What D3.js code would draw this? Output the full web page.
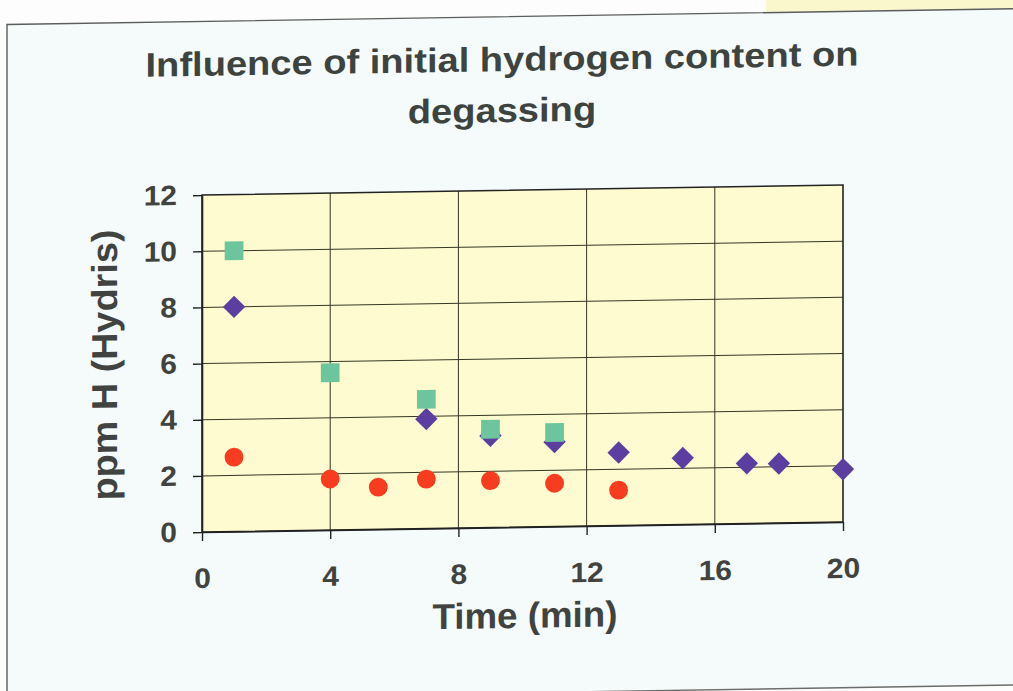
<!DOCTYPE html>
<html>
<head>
<meta charset="utf-8">
<script src="https://cdn.jsdelivr.net/npm/d3@7"></script>
<style>
  html, body { margin: 0; padding: 0; background: #fdfdfd; }
  svg { display: block; }
  text { font-family: "Liberation Sans", Arial, sans-serif; font-weight: bold; fill: #404340; }
</style>
</head>
<body>
<svg id="chart" width="1013" height="691"></svg>
<script>
// data
var timeHigh = [1, 4, 7, 9, 11];
var hydrogenHigh = [10, 5.6, 4.6, 3.5, 3.35];

var timeMid = [1, 7, 9, 11, 13, 15, 17, 18, 20];
var hydrogenMid = [8, 3.9, 3.27, 3.01, 2.6, 2.37, 2.14, 2.12, 1.88];

var timeLow = [1, 4, 5.5, 7, 9, 11, 13];
var hydrogenLow = [2.65, 1.82, 1.5, 1.76, 1.67, 1.54, 1.26];

var xTicks = [0, 4, 8, 12, 16, 20];
var yTicks = [0, 2, 4, 6, 8, 10, 12];

var titleLines = ['Influence of initial hydrogen content on', 'degassing'];
var xTitle = 'Time (min)';
var yTitle = 'ppm H (Hydris)';

// layout
var plot = { left: 202, right: 843, top: 190.3, bottom: 527.3 };

var svg = d3.select('#chart');

// the scan is slightly skewed: horizontals rise to the right
var page = svg.append('g')
  .attr('transform', 'translate(506,0) skewY(-0.9) translate(-506,0)');

// yellow scrap top right + slide frame
page.append('rect')
  .attr('x', 766).attr('y', -40).attr('width', 300).attr('height', 56)
  .attr('fill', '#fbf7cd');
page.append('rect')
  .attr('x', 7).attr('y', 16.7).attr('width', 1100).attr('height', 676)
  .attr('fill', '#f5fafa');
page.append('path')
  .attr('d', 'M7,693 L7,16.7 L1100,16.7')
  .attr('fill', 'none').attr('stroke', '#5a5d5a').attr('stroke-width', 1.4);
page.append('line')
  .attr('x1', 7).attr('x2', 1100).attr('y1', 693).attr('y2', 693)
  .attr('stroke', '#6a6d6a').attr('stroke-width', 1.4);

var x = d3.scaleLinear().domain([0, 20]).range([plot.left, plot.right]);
var y = d3.scaleLinear().domain([0, 12]).range([plot.bottom, plot.top]);

function stretch(sel, k) {
  sel.each(function () {
    var w = this.getComputedTextLength();
    d3.select(this).attr('textLength', w * k).attr('lengthAdjust', 'spacingAndGlyphs');
  });
}

// plot area
page.append('rect')
  .attr('x', plot.left).attr('y', plot.top)
  .attr('width', plot.right - plot.left).attr('height', plot.bottom - plot.top)
  .attr('fill', '#fdfbcf');

// grid
page.append('g').selectAll('line')
  .data(yTicks.slice(1, -1)).join('line')
  .attr('x1', plot.left).attr('x2', plot.right)
  .attr('y1', function (d) { return y(d); }).attr('y2', function (d) { return y(d); })
  .attr('stroke', '#363625').attr('stroke-width', 1);
page.append('g').selectAll('line')
  .data(xTicks.slice(1, -1)).join('line')
  .attr('y1', plot.top).attr('y2', plot.bottom)
  .attr('x1', function (d) { return x(d); }).attr('x2', function (d) { return x(d); })
  .attr('stroke', '#363625').attr('stroke-width', 1);

page.append('rect')
  .attr('x', plot.left).attr('y', plot.top)
  .attr('width', plot.right - plot.left).attr('height', plot.bottom - plot.top)
  .attr('fill', 'none').attr('stroke', '#222').attr('stroke-width', 1.6);

// axes
var xAxis = page.append('g')
  .attr('transform', 'translate(0,' + plot.bottom + ')')
  .call(d3.axisBottom(x).tickValues(xTicks).tickSize(9).tickSizeOuter(0).tickPadding(27));
var yAxis = page.append('g')
  .attr('transform', 'translate(' + plot.left + ',0)')
  .call(d3.axisLeft(y).tickValues(yTicks).tickSize(9).tickSizeOuter(0).tickPadding(16));

[xAxis, yAxis].forEach(function (a) {
  a.select('.domain').attr('stroke', '#222').attr('stroke-width', 1.6);
  a.selectAll('.tick line').attr('stroke', '#222').attr('stroke-width', 1.4);
  a.selectAll('.tick text')
    .attr('font-family', null).attr('fill', null)
    .style('font-size', '28px');
  stretch(a.selectAll('.tick text'), 1.07);
});

// titles
var title = page.append('text')
  .attr('text-anchor', 'middle')
  .style('font-size', '34px')
  .style('fill', '#3d443f');
title.append('tspan').attr('x', 502).attr('y', 71).text(titleLines[0]);
title.append('tspan').attr('x', 502).attr('y', 122).text(titleLines[1]);
stretch(title.selectAll('tspan'), 1.12);

var xt = page.append('text')
  .attr('x', 525).attr('y', 628)
  .attr('text-anchor', 'middle')
  .style('font-size', '36px')
  .text(xTitle);
stretch(xt, 1.02);

var yt = page.append('text')
  .attr('transform', 'translate(117,' + (plot.top + plot.bottom) / 2 + ') rotate(-90)')
  .attr('text-anchor', 'middle')
  .style('font-size', '36px')
  .text(yTitle);
stretch(yt, 1.05);

// markers
function pairs(xs, ys) {
  return xs.map(function (t, i) { return [t, ys[i]]; });
}

var diamond = d3.symbol().type(d3.symbolSquare).size(250);
page.append('g').selectAll('path')
  .data(pairs(timeMid, hydrogenMid)).join('path')
  .attr('d', diamond)
  .attr('transform', function (d) { return 'translate(' + x(d[0]) + ',' + y(d[1]) + ') rotate(45)'; })
  .attr('fill', '#5b3e9f');

var square = d3.symbol().type(d3.symbolSquare).size(350);
page.append('g').selectAll('path')
  .data(pairs(timeHigh, hydrogenHigh)).join('path')
  .attr('d', square)
  .attr('transform', function (d) { return 'translate(' + x(d[0]) + ',' + y(d[1]) + ')'; })
  .attr('fill', '#6cc59c');

var circle = d3.symbol().type(d3.symbolCircle).size(280);
page.append('g').selectAll('path')
  .data(pairs(timeLow, hydrogenLow)).join('path')
  .attr('d', circle)
  .attr('transform', function (d) { return 'translate(' + x(d[0]) + ',' + y(d[1]) + ')'; })
  .attr('fill', '#f73c1f');
</script>
</body>
</html>
